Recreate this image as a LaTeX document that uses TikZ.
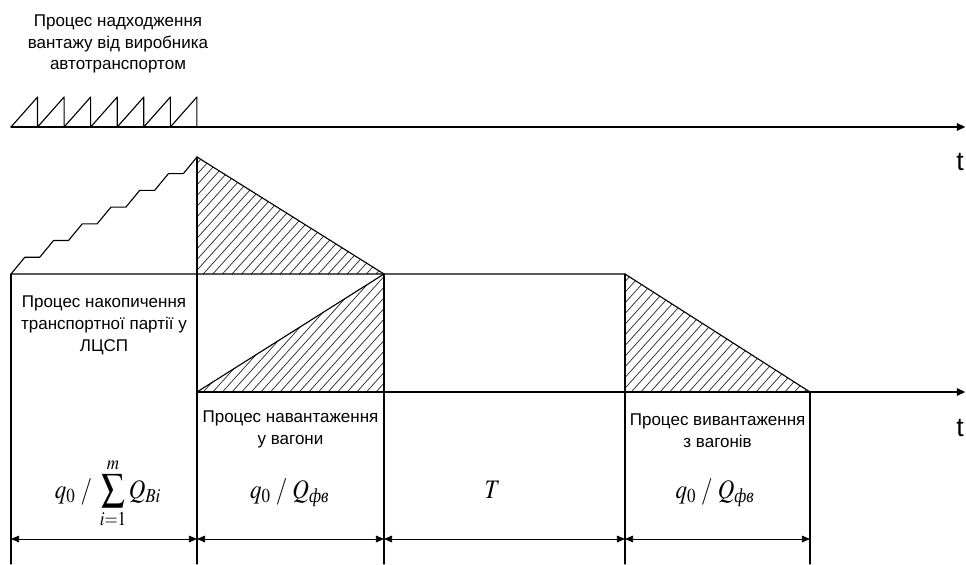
\documentclass[tikz,border=0pt]{standalone}
\usepackage{amsmath}
\usepackage{mathptmx}
\usepackage{graphicx}
\usepackage[no-math]{fontspec}
\setmainfont{Liberation Sans}
\newfontfamily\cyrserif{Liberation Serif}
\usetikzlibrary{arrows.meta}

\newcommand{\narrow}[1]{\scalebox{0.86}[1]{#1}}
\newcommand{\bigsum}{\mathop{\vcenter{\hbox{\scalebox{1.45}{$\sum$}}}}\limits}

\tikzset{
  lbl/.style={font=\fontsize{12.1}{15.5}\selectfont,align=center,inner sep=0pt},
  frm/.style={font=\fontsize{19}{21}\selectfont,anchor=base,inner sep=0pt},
  hatchln/.style={line width=0.5pt,black!85},
  dim/.style={line width=0.6pt,{Triangle[length=5.8pt,width=4.8pt]}-{Triangle[length=5.8pt,width=4.8pt]}}
}

\begin{document}
\begin{tikzpicture}[line cap=round,line join=round]
  \useasboundingbox (0,0) rectangle (24.15,14.1);
  \coordinate (S) at (0.275,7.25);
  \coordinate (P) at (4.925,10.175);
  \coordinate (Pb) at (4.925,7.25);
  \coordinate (L) at (4.925,4.3);
  \coordinate (E) at (9.6,7.25);
  \coordinate (Eb) at (9.6,4.3);
  \coordinate (U) at (15.625,7.25);
  \coordinate (Ub) at (15.625,4.3);
  \coordinate (F) at (20.25,4.3);
  \coordinate (D) at (0,0.625);
  \coordinate (Z) at (0,0);
  % hatched areas
  \begin{scope}
    \clip (P) -- (Pb) -- (E) -- cycle;
    \foreach \i in {0,...,32} \draw[hatchln] (2.2+0.24*\i,7.25) -- ++(48:4.3);
  \end{scope}
  \begin{scope}
    \clip (L) -- (E) -- (Eb) -- cycle;
    \foreach \i in {0,...,32} \draw[hatchln] (2.2+0.24*\i,4.3) -- ++(48:4.3);
  \end{scope}
  \begin{scope}
    \clip (U) -- (Ub) -- (F) -- cycle;
    \foreach \i in {0,...,32} \draw[hatchln] (12.9+0.24*\i,4.3) -- ++(48:4.3);
  \end{scope}
  % arrival of cargo
  \draw[line width=0.8pt] (0.275,10.925) \foreach \i in {1,...,7} { -- ++(0.664,0.75) -- ++(0,-0.75) };
  \draw[line width=0.8pt,-{Triangle[length=6pt,width=5.5pt]}] (0.275,10.925) -- (24.13,10.925);
  % accumulation, loading, transit, unloading
  \draw[line width=0.8pt] (S) \foreach \k in {1,...,6} { -- ++(0.345,0.418) -- ++(0.373,0) } -- (P);
  \draw[line width=0.8pt] (S) -- (U) -- (F);
  \draw[line width=0.8pt] (P) -- (E) -- (L);
  \draw[line width=0.8pt,-{Triangle[length=6pt,width=5.5pt]}] (L) -- (24.13,4.3);
  \draw[line width=0.8pt] (S) -- (S |- Z);
  \draw[line width=0.8pt] (P) -- (P |- Z);
  \draw[line width=0.8pt] (E) -- (E |- Z);
  \draw[line width=0.8pt] (U) -- (U |- Z);
  \draw[line width=0.8pt] (F) -- (F |- Z);
  % durations
  \draw[dim] (S |- D) -- (P |- D);
  \draw[dim] (P |- D) -- (E |- D);
  \draw[dim] (E |- D) -- (U |- D);
  \draw[dim] (U |- D) -- (F |- D);
  % labels
  \node[lbl] (arr) at (2.95,13.0) {Процес надходження\\вантажу від виробника\\автотранспортом};
  \node[lbl] (acc) at (2.6,5.97) {Процес накопичення\\транспортної партії у\\ЛЦСП};
  \node[lbl] (ld) at (7.2625,3.36) {Процес навантаження\\у вагони};
  \node[lbl] (uld) at (17.94,3.33) {Процес вивантаження\\з вагонів};
  \node[font=\fontsize{19}{21}\selectfont,inner sep=0pt] (t1) at (24.0,10.05) {t};
  \node[font=\fontsize{19}{21}\selectfont,inner sep=0pt] (t2) at (24.0,3.4) {t};
  \node[frm] (f1) at (2.7,1.65) {\narrow{$q_0\;/\;\bigsum_{i=1}^{m}Q_{Bi}$}};
  \node[frm] (f2) at (7.24,1.65) {\narrow{$q_0\;/\;Q_{\text{\cyrserif\itshape фв}}$}};
  \node[frm] (f3) at (12.31,1.65) {\narrow{$T$}};
  \node[frm] (f4) at (17.875,1.65) {\narrow{$q_0\;/\;Q_{\text{\cyrserif\itshape фв}}$}};
\end{tikzpicture}
\end{document}
